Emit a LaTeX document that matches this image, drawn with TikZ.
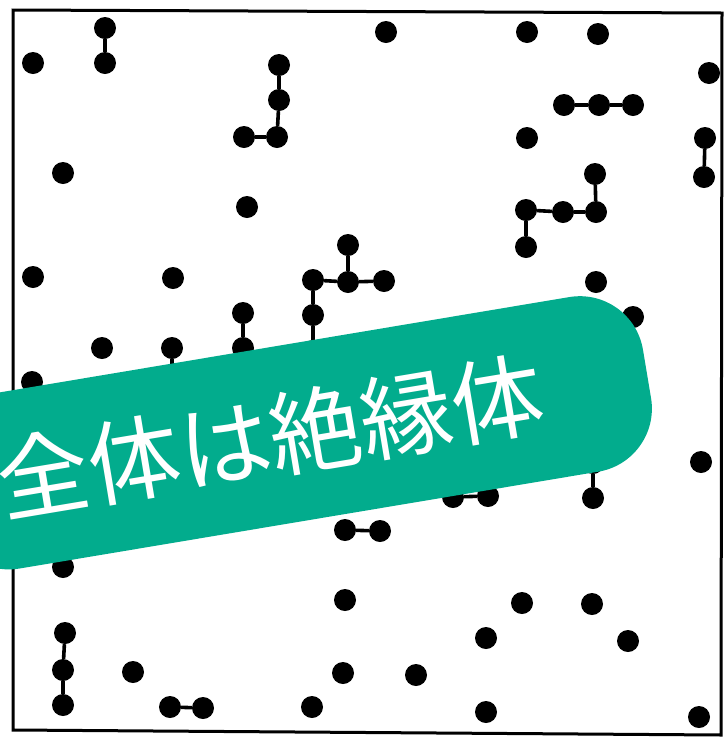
\documentclass[tikz,border=0pt]{standalone}
\usepackage{fontspec}
\newfontfamily\cjk{Noto Sans CJK JP}
\definecolor{bandgreen}{RGB}{2,172,141}
\tikzset{
  dot/.style={circle, fill=black, inner sep=0pt, minimum size=22pt},
  link/.style={line width=3.6pt, black},
  frameline/.style={line width=3pt, black},
  band/.style={fill=bandgreen, rounded corners=64pt, minimum width=715pt, minimum height=177pt, inner sep=0pt},
  bandtext/.style={text=white, font=\cjk\fontsize{92pt}{92pt}\selectfont, inner sep=0pt}
}
\begin{document}
\begin{tikzpicture}[x=1pt,y=1pt]
\useasboundingbox (0,0) rectangle (726,-740);
\clip (0,0) rectangle (726,-740);
\fill[white] (0,0) rectangle (726,-740);
% frame
\draw[frameline] (13,-10) -- (722,-13) -- (721,-735) -- (13,-730) -- cycle;
% dots
\node[dot] (a1) at (105,-28) {};
\node[dot] (a2) at (386,-32) {};
\node[dot] (a3) at (527,-32) {};
\node[dot] (a4) at (598,-34) {};
\node[dot] (b1) at (33,-63) {};
\node[dot] (b2) at (105,-63) {};
\node[dot] (b3) at (279,-65) {};
\node[dot] (b4) at (709,-73) {};
\node[dot] (c1) at (279,-100) {};
\node[dot] (c2) at (564,-105) {};
\node[dot] (c3) at (599,-105) {};
\node[dot] (c4) at (633,-105) {};
\node[dot] (d1) at (244,-137) {};
\node[dot] (d2) at (277,-137) {};
\node[dot] (d3) at (527,-138) {};
\node[dot] (d4) at (705,-138) {};
\node[dot] (e1) at (63,-173) {};
\node[dot] (e2) at (595,-174) {};
\node[dot] (e3) at (704,-177) {};
\node[dot] (f1) at (247,-207) {};
\node[dot] (f2) at (526,-210) {};
\node[dot] (f3) at (563,-212) {};
\node[dot] (f4) at (596,-212) {};
\node[dot] (g1) at (348,-245) {};
\node[dot] (g2) at (526,-247) {};
\node[dot] (h1) at (33,-277) {};
\node[dot] (h2) at (173,-278) {};
\node[dot] (h3) at (313,-280) {};
\node[dot] (h4) at (348,-282) {};
\node[dot] (h5) at (384,-281) {};
\node[dot] (h6) at (596,-282) {};
\node[dot] (i1) at (243,-313) {};
\node[dot] (i2) at (313,-315) {};
\node[dot] (i3) at (633,-317) {};
\node[dot] (j1) at (102,-348) {};
\node[dot] (j2) at (172,-348) {};
\node[dot] (j3) at (243,-348) {};
\node[dot] (j4) at (313,-351) {};
\node[dot] (k1) at (32,-382) {};
\node[dot] (k2) at (172,-383) {};
\node[dot] (l1) at (701,-462) {};
\node[dot] (l2) at (593,-463) {};
\node[dot] (m1) at (453,-497) {};
\node[dot] (m2) at (488,-496) {};
\node[dot] (m3) at (593,-498) {};
\node[dot] (n1) at (345,-530) {};
\node[dot] (n2) at (380,-531) {};
\node[dot] (o1) at (63,-567) {};
\node[dot] (p1) at (345,-600) {};
\node[dot] (p2) at (522,-603) {};
\node[dot] (p3) at (592,-604) {};
\node[dot] (q1) at (65,-633) {};
\node[dot] (q2) at (486,-638) {};
\node[dot] (q3) at (628,-641) {};
\node[dot] (r1) at (63,-670) {};
\node[dot] (r2) at (133,-672) {};
\node[dot] (r3) at (343,-673) {};
\node[dot] (r4) at (416,-675) {};
\node[dot] (s1) at (63,-705) {};
\node[dot] (s2) at (170,-707) {};
\node[dot] (s3) at (203,-708) {};
\node[dot] (s4) at (312,-707) {};
\node[dot] (s5) at (486,-712) {};
\node[dot] (s6) at (699,-717) {};
% links
\draw[link] (a1) -- (b2);
\draw[link] (b3) -- (c1) -- (d2) -- (d1);
\draw[link] (c2) -- (c3) -- (c4);
\draw[link] (d4) -- (e3);
\draw[link] (e2) -- (f4) -- (f3) -- (f2) -- (g2);
\draw[link] (g1) -- (h4);
\draw[link] (h3) -- (h4) -- (h5);
\draw[link] (h3) -- (i2) -- (j4);
\draw[link] (i1) -- (j3);
\draw[link] (j2) -- (k2);
\draw[link] (l2) -- (m3);
\draw[link] (m1) -- (m2);
\draw[link] (n1) -- (n2);
\draw[link] (q1) -- (r1) -- (s1);
\draw[link] (s2) -- (s3);
% band
\node[band, rotate=9.5] (bandbox) at (294.4,-432.8) {};
\node[bandtext, rotate=9.5] (label) at (270.2,-436.9) {全体は絶縁体};
\end{tikzpicture}
\end{document}
